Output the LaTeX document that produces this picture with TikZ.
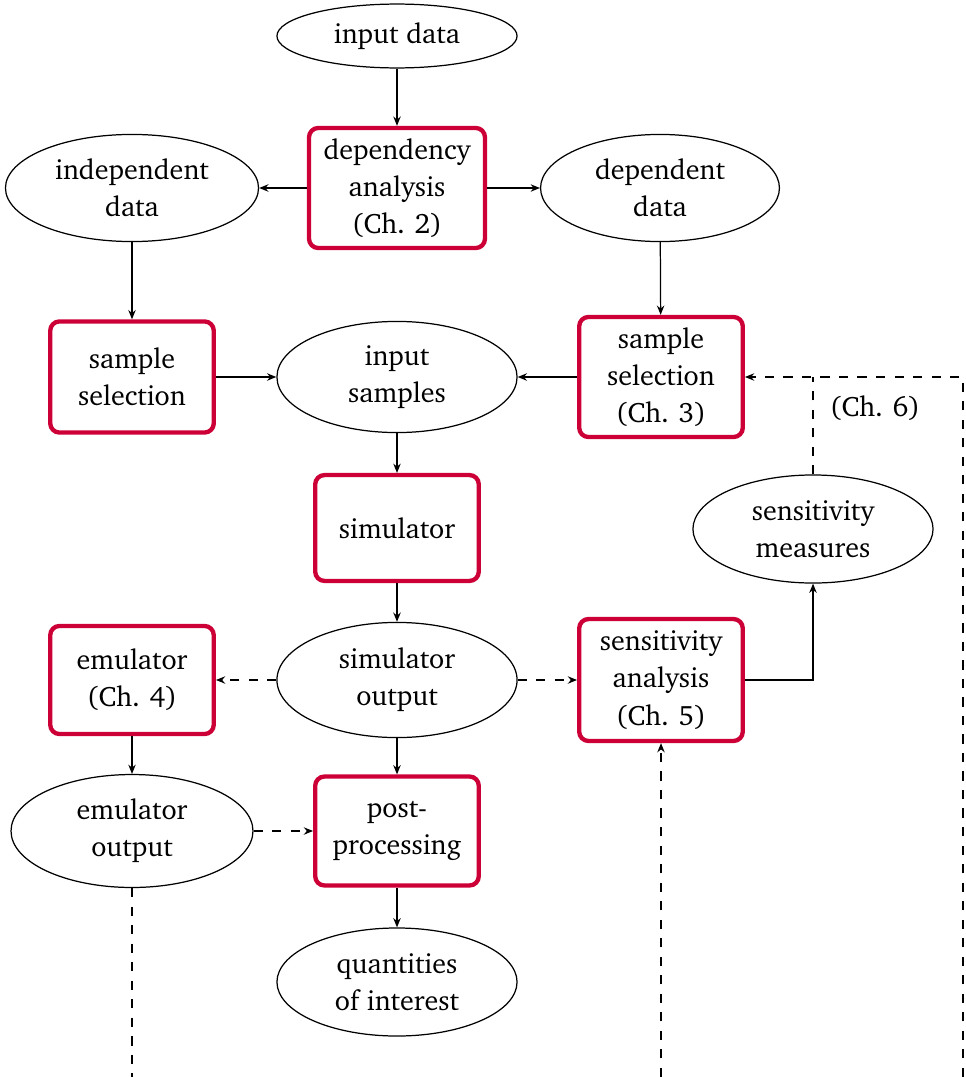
\documentclass[tikz,border=0pt]{standalone}
\usepackage[T1]{fontenc}
\usepackage{charter}
\usetikzlibrary{shapes.geometric,arrows.meta}
\definecolor{procred}{RGB}{204,0,54}
\tikzset{
  every node/.style={font=\fontsize{9.1pt}{12pt}\selectfont},
  proc/.style={draw=procred, line width=1.4pt, rounded corners=3pt, align=center, inner sep=0pt, minimum width=53pt},
  data/.style={draw, ellipse, line width=0.4pt, align=center, inner sep=0pt, minimum width=77.8pt},
  arr/.style={-{Stealth[length=3pt,width=2.4pt]}, line width=0.4pt},
  darr/.style={arr, dashed},
  dline/.style={dashed, line width=0.4pt}
}
\begin{document}
\begin{tikzpicture}[x=0.324pt,y=-0.324pt]
\useasboundingbox (0,0) rectangle (965,1077);
\node[data, minimum height=20.7pt] (in) at (397,36) {input data};
\node[proc, minimum width=57pt, minimum height=38.9pt] (dep) at (397,188) {dependency\\analysis\\(Ch. 2)};
\node[data, minimum width=82pt, minimum height=34.7pt] (ind) at (132,188) {independent\\data};
\node[data, minimum width=77.4pt, minimum height=34.7pt] (dd) at (660,188) {dependent\\data};
\node[proc, minimum height=36pt] (ssl) at (132,377) {sample\\selection};
\node[data, minimum height=36pt] (is) at (397,377) {input\\samples};
\node[proc, minimum height=38.9pt] (ss3) at (661,377) {sample\\selection\\(Ch. 3)};
\node[proc, minimum height=34.3pt] (sim) at (397,528) {simulator};
\node[data, minimum height=35pt] (sm) at (813,529) {sensitivity\\measures};
\node[proc, minimum height=35pt] (emu) at (132,680) {emulator\\(Ch. 4)};
\node[data, minimum height=37.3pt] (so) at (397,680) {simulator\\output};
\node[proc, minimum height=39.5pt] (sa) at (661,680) {sensitivity\\analysis\\(Ch. 5)};
\node[data, minimum width=78.4pt, minimum height=36.6pt] (eo) at (132,831) {emulator\\output};
\node[proc, minimum height=35.3pt] (pp) at (397,831) {post-\\processing};
\node[data, minimum height=35pt] (qoi) at (397,982) {quantities\\of interest};
\node (ch6) at (875,408) {(Ch. 6)};
\coordinate (j6) at (813,377);
\coordinate (bl) at (132,1077);
\coordinate (bm) at (661,1077);
\coordinate (br) at (963,1077);
\draw[arr] (in) -- (dep);
\draw[arr] (dep) -- (ind);
\draw[arr] (dep) -- (dd);
\draw[arr] (ind) -- (ssl);
\draw[arr] (dd) -- (ss3);
\draw[arr] (ssl) -- (is);
\draw[arr] (ss3) -- (is);
\draw[arr] (is) -- (sim);
\draw[arr] (sim) -- (so);
\draw[darr] (so) -- (emu);
\draw[darr] (so) -- (sa);
\draw[arr] (emu) -- (eo);
\draw[arr] (so) -- (pp);
\draw[darr] (eo) -- (pp);
\draw[arr] (pp) -- (qoi);
\draw[arr] (sa.east) -| (sm.south);
\draw[dline] (sm.north) -- (j6);
\draw[darr] (br) |- (ss3.east);
\draw[dline] (eo.south) -- (bl);
\draw[darr] (bm) -- (sa.south);
\end{tikzpicture}
\end{document}
